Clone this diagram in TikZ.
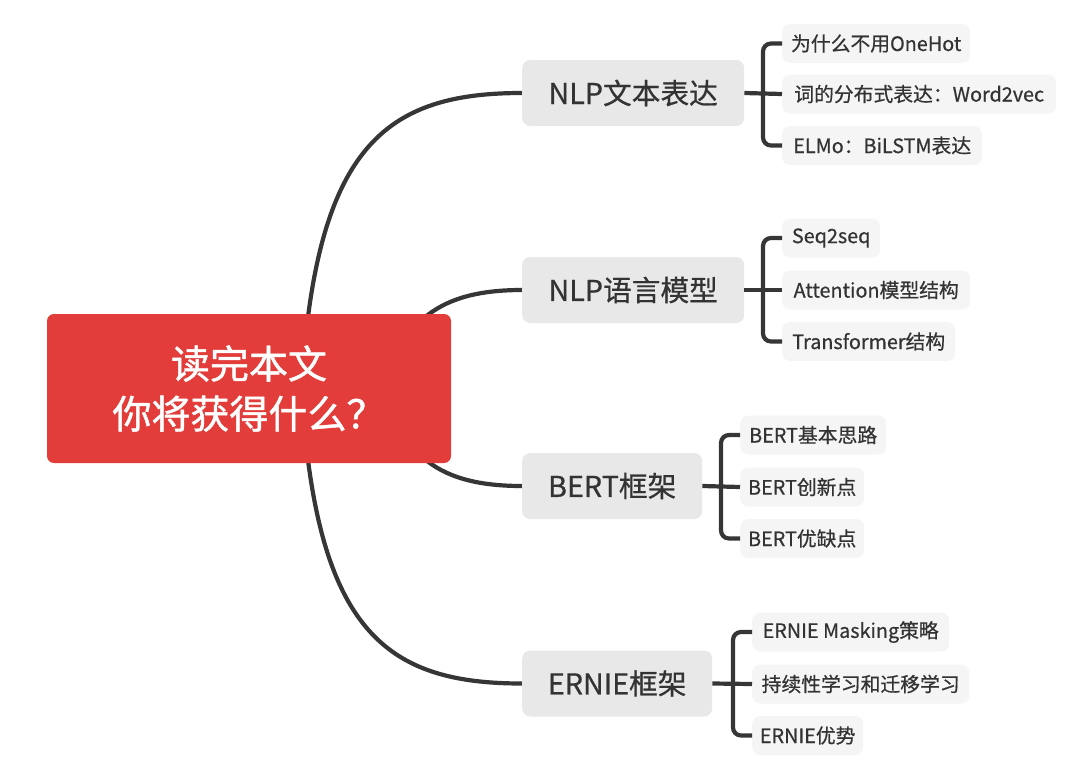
\documentclass[tikz,border=0pt]{standalone}
\usepackage{fontspec}
\newfontfamily\cjk[FakeBold=0.6]{Noto Sans CJK SC}
\newfontfamily\cjkroot[FakeBold=1.2]{Noto Sans CJK SC}
\usetikzlibrary{backgrounds}
\definecolor{rootred}{HTML}{E23D3A}
\definecolor{brgrey}{HTML}{E8E8E8}
\definecolor{lfgrey}{HTML}{F5F5F5}
\definecolor{ink}{HTML}{333333}
\definecolor{linec}{HTML}{363636}
\begin{document}
\begin{tikzpicture}[x=1pt,y=-1pt,
  rootbox/.style={fill=rootred, rounded corners=7pt, minimum width=404pt, minimum height=149pt,
    text=white, font=\cjkroot\fontsize{39}{50}\selectfont, align=center, inner sep=0pt},
  branchbox/.style={fill=brgrey, rounded corners=8pt, minimum height=66pt, inner sep=0pt,
    text=ink, font=\cjk\fontsize{28.7}{34}\selectfont, anchor=west},
  leafbox/.style={fill=lfgrey, rounded corners=8pt, minimum height=39pt, inner sep=0pt,
    text=ink, font=\cjk\fontsize{19.8}{24}\selectfont, anchor=west},
  conn/.style={draw=linec, line width=4.2pt},
  bracket/.style={draw=linec, line width=4.2pt, rounded corners=8pt}]
\useasboundingbox (0,0) rectangle (1080,777);

% root
\node[rootbox] (root) at (249,388.5) {读完本文\\你将获得什么？};

% branches
\node[branchbox, minimum width=222pt] (b1) at (522,93) {NLP文本表达};
\node[branchbox, minimum width=222pt] (b2) at (522,290) {NLP语言模型};
\node[branchbox, minimum width=180pt] (b3) at (522,486) {BERT框架};
\node[branchbox, minimum width=190pt] (b4) at (522,683.5) {ERNIE框架};

% leaves branch 1
\node[leafbox, minimum width=188pt] (l11) at (782,43.5) {为什么不用OneHot};
\node[leafbox, minimum width=274pt] (l12) at (782,94) {词的分布式表达：Word2vec};
\node[leafbox, minimum width=200pt] (l13) at (782,145.5) {ELMo：BiLSTM表达};
% leaves branch 2
\node[leafbox, minimum width=98pt] (l21) at (782,238) {Seq2seq};
\node[leafbox, minimum width=188pt] (l22) at (782,290) {Attention模型结构};
\node[leafbox, minimum width=173pt] (l23) at (782,341.5) {Transformer结构};
% leaves branch 3
\node[leafbox, minimum width=146pt] (l31) at (740,435) {BERT基本思路};
\node[leafbox, minimum width=124pt] (l32) at (740,487) {BERT创新点};
\node[leafbox, minimum width=124pt] (l33) at (740,538.5) {BERT优缺点};
% leaves branch 4
\node[leafbox, minimum width=197pt] (l41) at (752,632) {ERNIE Masking策略};
\node[leafbox, minimum width=217pt] (l42) at (752,684) {持续性学习和迁移学习};
\node[leafbox, minimum width=111pt] (l43) at (752,735.5) {ERNIE优势};

\begin{scope}[on background layer]
  \draw[conn] ([shift={(51,31.5)}]root.center) .. controls (310,150) and (380,93) .. (b1.west);
  \draw[conn] ([shift={(131,11.5)}]root.center) .. controls (400,320) and (440,290) .. (b2.west);
  \draw[conn] ([shift={(131,-11.5)}]root.center) .. controls (400,457) and (440,486) .. (b3.west);
  \draw[conn] ([shift={(51,-31.5)}]root.center) .. controls (310,627) and (380,683.5) .. (b4.west);
\end{scope}

% brackets
\draw[conn] (b1.east) -- (l12.west);
\draw[bracket] (l11.west) -- ++(-19,0) |- (l13.west);
\draw[conn] (b2.east) -- (l22.west);
\draw[bracket] (l21.west) -- ++(-19,0) |- (l23.west);
\draw[conn] (b3.east) -- (l32.west);
\draw[bracket] (l31.west) -- ++(-19,0) |- (l33.west);
\draw[conn] (b4.east) -- (l42.west);
\draw[bracket] (l41.west) -- ++(-19,0) |- (l43.west);
\end{tikzpicture}
\end{document}
